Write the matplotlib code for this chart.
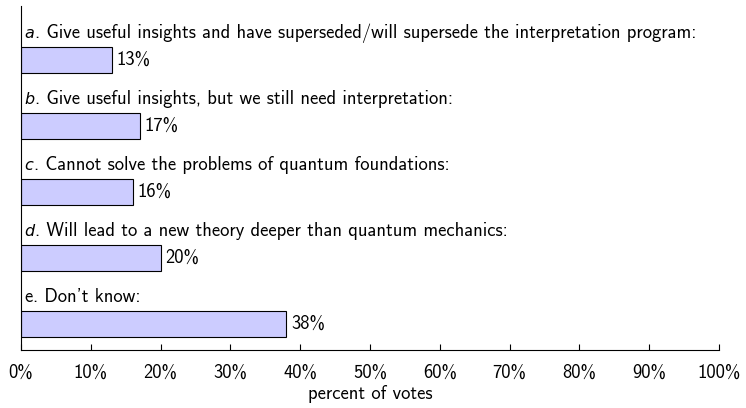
import matplotlib
matplotlib.use("Agg")
import matplotlib.pyplot as plt
from matplotlib.ticker import FuncFormatter

plt.rcParams['font.family'] = ['cmss10', 'DejaVu Sans']
plt.rcParams['axes.unicode_minus'] = False

letters = ["a", "b", "c", "d", "e"]
italic = [True, True, True, True, False]
answers = [
    "Give useful insights and have superseded/will supersede the interpretation program:",
    "Give useful insights, but we still need interpretation:",
    "Cannot solve the problems of quantum foundations:",
    "Will lead to a new theory deeper than quantum mechanics:",
    "Don't know:",
]
values = [13, 17, 16, 20, 38]
xticks = [0, 10, 20, 30, 40, 50, 60, 70, 80, 90, 100]
xlabel = "percent of votes"

W, H = 746, 408
fig = plt.figure(figsize=(W / 100, H / 100), dpi=100)
left, right, bottom, top = 21, 719, 350, 6
ax = fig.add_axes([left / W, 1 - bottom / H, (right - left) / W, (bottom - top) / H])

pos = list(range(len(values)))
bh = 26 / 66
ax.barh(pos, values, height=bh, color="#ccccff", edgecolor="black", linewidth=0.8)
ax.set_xlim(0, 100)
ax.set_ylim((bottom - 60) / 66, (top - 60) / 66)

fs = 13.4
fig.canvas.draw()
renderer = fig.canvas.get_renderer()
for i, (l, it, txt, v) in enumerate(zip(letters, italic, answers, values)):
    y = i - bh / 2 - 9 / 66
    if it:
        t = ax.text(0.5, y, l, ha="left", va="baseline", fontsize=fs * 0.86,
                    family="DejaVu Sans", style="oblique")
    else:
        t = ax.text(0.5, y, l, ha="left", va="baseline", fontsize=fs)
    bb = t.get_window_extent(renderer)
    x_end = ax.transData.inverted().transform((bb.x1, 0))[0]
    ax.text(x_end + 0.1, y, ". " + txt, ha="left", va="baseline", fontsize=fs)
    ax.text(v + 0.7, i, f"{v}%", ha="left", va="center", fontsize=fs)

ax.set_xticks(xticks)
ax.xaxis.set_major_formatter(FuncFormatter(lambda x, p: f"{x:.0f}%"))
ax.set_yticks([])
ax.tick_params(axis="x", direction="in", length=4, width=0.8, labelsize=fs, pad=10)
ax.spines["top"].set_visible(False)
ax.spines["right"].set_visible(False)
ax.spines["left"].set_linewidth(0.8)
ax.spines["bottom"].set_linewidth(0.8)
ax.set_xlabel(xlabel, fontsize=fs, labelpad=2)

fig.savefig("out.png", dpi=100)
